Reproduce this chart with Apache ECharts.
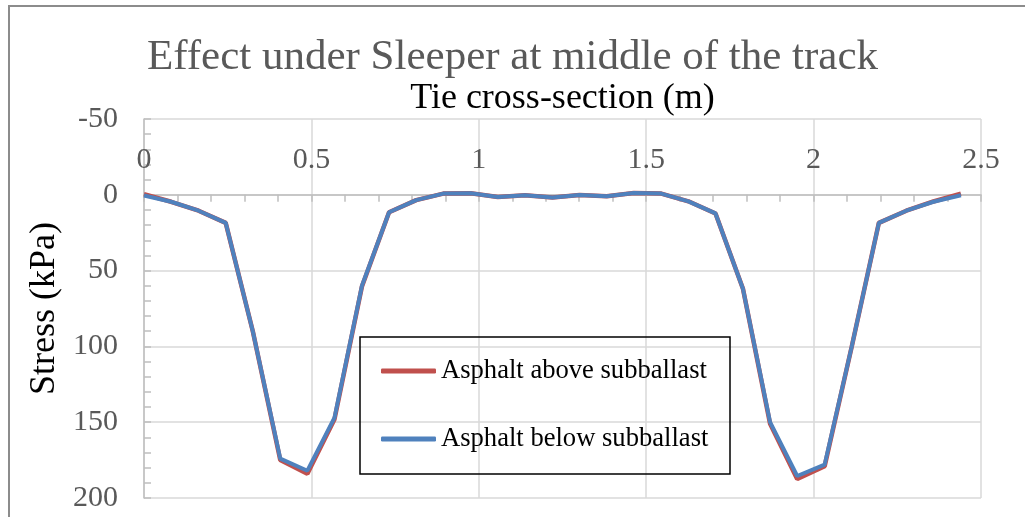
<!DOCTYPE html>
<html>
<head>
<meta charset="utf-8">
<script src="https://cdn.jsdelivr.net/npm/echarts@6/dist/echarts.min.js"></script>
<style>
html,body{margin:0;padding:0;background:#fff;}
#chart{width:1025px;height:517px;}
</style>
</head>
<body>
<div id="chart"></div>
<script>
// Tie cross-section positions (m)
const xPositions = [0, 0.081, 0.163, 0.244, 0.325, 0.407, 0.488, 0.569, 0.651, 0.732,
  0.813, 0.894, 0.976, 1.057, 1.138, 1.22, 1.301, 1.382, 1.463, 1.545,
  1.626, 1.707, 1.789, 1.87, 1.951, 2.033, 2.114, 2.195, 2.277, 2.358, 2.44];
// Stress (kPa)
const asphaltAbove = [-0.4, 4.6, 10.5, 18.5, 90, 175, 184, 148, 60.5, 11.5,
  3.5, -0.8, -1, 1.5, 0.3, 1.8, 0.2, 1, -1.2, -0.8,
  4.3, 12.3, 62, 151, 187.5, 179, 100, 18.5, 10.5, 4.4, -0.8];
const asphaltBelow = [0.5, 4.6, 10.5, 18.5, 90, 174, 182, 147, 60, 11.5,
  3.5, -0.8, -1, 1.5, 0.3, 1.8, 0.2, 1, -1.2, -0.8,
  4.3, 12.3, 62, 150, 185.5, 178, 100, 18.5, 10.5, 4.6, 0.3];
const seriesNames = ['Asphalt above subballast', 'Asphalt below subballast'];
const titleText = 'Effect under Sleeper at middle of the track';
const xAxisName = 'Tie cross-section (m)';
const yAxisName = 'Stress (kPa)';

const FONT = "'Liberation Serif', 'Times New Roman', serif";
const pair = (xs, ys) => xs.map((x, i) => [x, ys[i]]);

const GRID_TOP = 119, GRID_BOTTOM = 19, CHART_H = 517;
const Y_MIN = -50, Y_MAX = 200;
// place the top x axis at the y = 0 level of the inverted value axis
const plotH = CHART_H - GRID_TOP - GRID_BOTTOM;
const zeroOffset = plotH * (0 - Y_MIN) / (Y_MAX - Y_MIN);

const chart = echarts.init(document.getElementById('chart'), null, {renderer: 'canvas'});
chart.setOption({
  animation: false,
  backgroundColor: '#fff',
  title: {
    text: titleText,
    left: 'center',
    top: 31,
    textStyle: {fontFamily: FONT, fontSize: 43, fontWeight: 'normal', color: '#595959'}
  },
  grid: {left: 144, right: 44, top: GRID_TOP, bottom: GRID_BOTTOM, containLabel: false},
  legend: {
    data: seriesNames,
    orient: 'vertical',
    left: 381,
    top: 356,
    padding: 0,
    itemWidth: 55,
    itemHeight: 5,
    itemGap: 38,
    icon: 'roundRect',
    textStyle: {fontFamily: FONT, fontSize: 26.6, color: '#000', lineHeight: 30}
  },
  xAxis: {
    type: 'value',
    position: 'top',
    offset: -zeroOffset,
    min: 0, max: 2.5, interval: 0.5,
    name: xAxisName,
    nameLocation: 'middle',
    nameGap: 78,
    nameTextStyle: {fontFamily: FONT, fontSize: 36, color: '#000'},
    axisLine: {onZero: false, lineStyle: {color: '#bfbfbf', width: 1.5}},
    axisTick: {show: true, inside: true, length: 7, lineStyle: {color: '#bfbfbf', width: 1.5}},
    minorTick: {show: true, splitNumber: 5, length: 7, lineStyle: {color: '#bfbfbf', width: 1.5}},
    axisLabel: {fontFamily: FONT, fontSize: 30, color: '#595959', margin: 20},
    splitLine: {show: true, lineStyle: {color: '#d9d9d9', width: 1.5}}
  },
  yAxis: {
    type: 'value',
    inverse: true,
    min: Y_MIN, max: Y_MAX, interval: 50,
    name: yAxisName,
    nameLocation: 'middle',
    nameRotate: 90,
    nameGap: 81,
    nameTextStyle: {fontFamily: FONT, fontSize: 36, color: '#000'},
    axisLine: {show: true, onZero: false, lineStyle: {color: '#bfbfbf', width: 1.5}},
    axisTick: {show: true, inside: true, length: 7, lineStyle: {color: '#bfbfbf', width: 1.5}},
    minorTick: {show: true, splitNumber: 5, length: 7, lineStyle: {color: '#bfbfbf', width: 1.5}},
    axisLabel: {fontFamily: FONT, fontSize: 30, color: '#595959', margin: 26},
    splitLine: {show: true, lineStyle: {color: '#d9d9d9', width: 1.5}}
  },
  graphic: [
    {type: 'rect', z: 100, silent: true,
      shape: {x: 9, y: 6, width: 1100, height: 700},
      style: {fill: 'none', stroke: '#8c8c8c', lineWidth: 2}},
    {type: 'rect', z: 100, silent: true,
      shape: {x: 360, y: 337, width: 370, height: 137},
      style: {fill: 'none', stroke: '#000', lineWidth: 1.5}}
  ],
  series: [
    {
      name: seriesNames[0], type: 'line', data: pair(xPositions, asphaltAbove),
      showSymbol: false, symbol: 'none', z: 2,
      itemStyle: {color: '#C0504D'},
      lineStyle: {color: '#C0504D', width: 4.5}
    },
    {
      name: seriesNames[1], type: 'line', data: pair(xPositions, asphaltBelow),
      showSymbol: false, symbol: 'none', z: 3,
      itemStyle: {color: '#4F81BD'},
      lineStyle: {color: '#4F81BD', width: 4}
    }
  ]
});
</script>
</body>
</html>
